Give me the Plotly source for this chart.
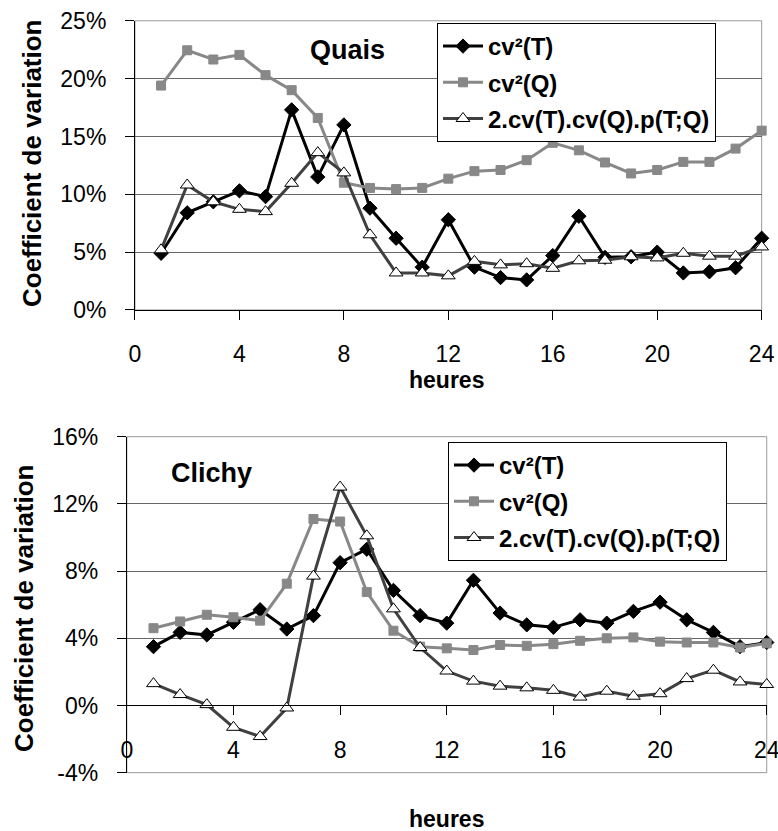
import plotly.graph_objects as go

# Hours of the day (x axis)
heures = list(range(1, 25))

# Quais (top chart), values in %
quais_cv2_t = [4.9, 8.4, 9.35, 10.3, 9.8, 17.3, 11.5, 16.0, 8.8, 6.2, 3.7, 7.8,
               3.7, 2.8, 2.6, 4.7, 8.1, 4.55, 4.6, 5.0, 3.2, 3.3, 3.65, 6.2]
quais_cv2_q = [19.4, 22.45, 21.65, 22.05, 20.3, 19.0, 16.6, 11.0, 10.55, 10.45, 10.55, 11.35,
               12.0, 12.1, 12.95, 14.45, 13.8, 12.75, 11.8, 12.1, 12.8, 12.8, 13.95, 15.5]
quais_cov = [5.2, 10.8, 9.35, 8.7, 8.5, 10.95, 13.6, 11.85, 6.5, 3.2, 3.2, 2.95,
             4.2, 3.9, 4.0, 3.6, 4.25, 4.3, 4.6, 4.5, 4.9, 4.65, 4.65, 5.45]

# Clichy (bottom chart), values in %
clichy_cv2_t = [3.5, 4.35, 4.2, 4.95, 5.7, 4.55, 5.35, 8.5, 9.3, 6.85, 5.35, 4.9,
                7.45, 5.5, 4.8, 4.65, 5.1, 4.9, 5.6, 6.15, 5.1, 4.35, 3.5, 3.75]
clichy_cv2_q = [4.6, 5.0, 5.4, 5.25, 5.05, 7.25, 11.1, 10.95, 6.75, 4.45, 3.5, 3.4,
                3.3, 3.6, 3.55, 3.65, 3.85, 4.0, 4.05, 3.8, 3.75, 3.75, 3.45, 3.7]
clichy_cov = [1.3, 0.65, 0.05, -1.3, -1.85, -0.15, 7.7, 13.0, 10.1, 5.75, 3.45, 2.05,
              1.45, 1.15, 1.05, 0.9, 0.5, 0.85, 0.55, 0.7, 1.6, 2.1, 1.4, 1.25]

noms = ["cv²(T)", "cv²(Q)", "2.cv(T).cv(Q).p(T;Q)"]

x_ticks = [0, 4, 8, 12, 16, 20, 24]
quais_ticks = [0, 5, 10, 15, 20, 25]
quais_ticktext = ["0%", "5%", "10%", "15%", "20%", "25%"]
clichy_ticks = [-4, 0, 4, 8, 12, 16]
clichy_ticktext = ["-4%", "0%", "4%", "8%", "12%", "16%"]

FONT = "Liberation Sans, Arial, sans-serif"

# style per series: line colour, marker symbol, marker fill, marker outline
styles = [
    dict(line="#000000", symbol="diamond", fill="#000000", edge="#000000", size=11),
    dict(line="#888888", symbol="square", fill="#888888", edge="#888888", size=9),
    dict(line="#404040", symbol="triangle-up", fill="#ffffff", edge="#000000", size=12),
]

fig = go.Figure()

for xa, ya, leg, series in [("x", "y", "legend", [quais_cv2_t, quais_cv2_q, quais_cov]),
                            ("x2", "y2", "legend2", [clichy_cv2_t, clichy_cv2_q, clichy_cov])]:
    for i, vals in enumerate(series):
        s = styles[i]
        fig.add_trace(go.Scatter(
            x=heures, y=vals, name=noms[i], mode="lines+markers",
            xaxis=xa, yaxis=ya, legend=leg, legendgroup=leg + str(i),
            line=dict(color=s["line"], width=3),
            marker=dict(symbol=s["symbol"], size=s["size"], color=s["fill"],
                        line=dict(color=s["edge"], width=1)),
            cliponaxis=False,
        ))

axis_common = dict(tickfont=dict(family=FONT, size=23, color="black"),
                   ticks="outside", ticklen=9, tickcolor="black", automargin=False,
                   ticklabeloverflow="allow",
                   showline=True, linecolor="black", linewidth=1, zeroline=False)

legend_common = dict(font=dict(family=FONT, size=24, color="black", weight="bold"),
                     bgcolor="white", bordercolor="black", borderwidth=1,
                     xanchor="left", yanchor="top", itemwidth=40, tracegroupgap=2)

fig.update_layout(
    width=778, height=831,
    margin=dict(l=0, r=0, t=0, b=0),
    paper_bgcolor="white", plot_bgcolor="white",
    showlegend=True,
    xaxis=dict(domain=[0.1735, 0.979], anchor="y", range=[0, 24], tickvals=x_ticks,
               showgrid=False, ticklabelstandoff=14, **axis_common),
    yaxis=dict(domain=[0.627, 0.975], anchor="x", range=[0, 25], tickvals=quais_ticks,
               ticktext=quais_ticktext, showgrid=True, gridcolor="#666666", gridwidth=1,
               ticklabelstandoff=14, **axis_common),
    xaxis2=dict(domain=[0.163, 0.9855], anchor="free", position=1 - 705 / 831,
                range=[0, 24], tickvals=x_ticks, showgrid=False, ticklabelstandoff=15,
                **axis_common),
    yaxis2=dict(domain=[0.0702, 0.4745], anchor="x2", range=[-4, 16], tickvals=clichy_ticks,
                ticktext=clichy_ticktext, showgrid=True, gridcolor="#666666", gridwidth=1,
                ticklabelstandoff=14, **axis_common),
    legend=dict(x=437 / 778, y=1 - 23 / 831, **legend_common),
    legend2=dict(x=448 / 778, y=1 - 442 / 831, **legend_common),
)

# gray frame around each plot area
for x0, x1, y0, y1 in [(0.1735, 0.979, 0.627, 0.975), (0.163, 0.9855, 0.0702, 0.4745)]:
    fig.add_shape(type="rect", xref="paper", yref="paper", x0=x0, x1=x1, y0=y0, y1=y1,
                  line=dict(color="#999999", width=1), layer="below")

bold = dict(family=FONT, color="black", weight="bold")
annots = [
    dict(text="Quais", x=347 / 778, y=1 - 50 / 831, font=dict(size=27, **bold)),
    dict(text="Clichy", x=212 / 778, y=1 - 473 / 831, font=dict(size=27, **bold)),
    dict(text="Coefficient de variation", x=32 / 778, y=1 - 163 / 831, textangle=-90,
         font=dict(size=26, **bold)),
    dict(text="Coefficient de variation", x=24 / 778, y=1 - 608 / 831, textangle=-90,
         font=dict(size=26, **bold)),
    dict(text="heures", x=447 / 778, y=1 - 380 / 831, font=dict(size=23, **bold)),
    dict(text="heures", x=447 / 778, y=1 - 819 / 831, font=dict(size=23, **bold)),
]
for a in annots:
    fig.add_annotation(xref="paper", yref="paper", showarrow=False,
                       xanchor="center", yanchor="middle", **a)

# page body has a default margin; drop it so the figure fills the window exactly
fig.write_html("out.html", config={"displayModeBar": False},
               post_script="document.body.style.margin='0';document.body.style.overflow='hidden';")
